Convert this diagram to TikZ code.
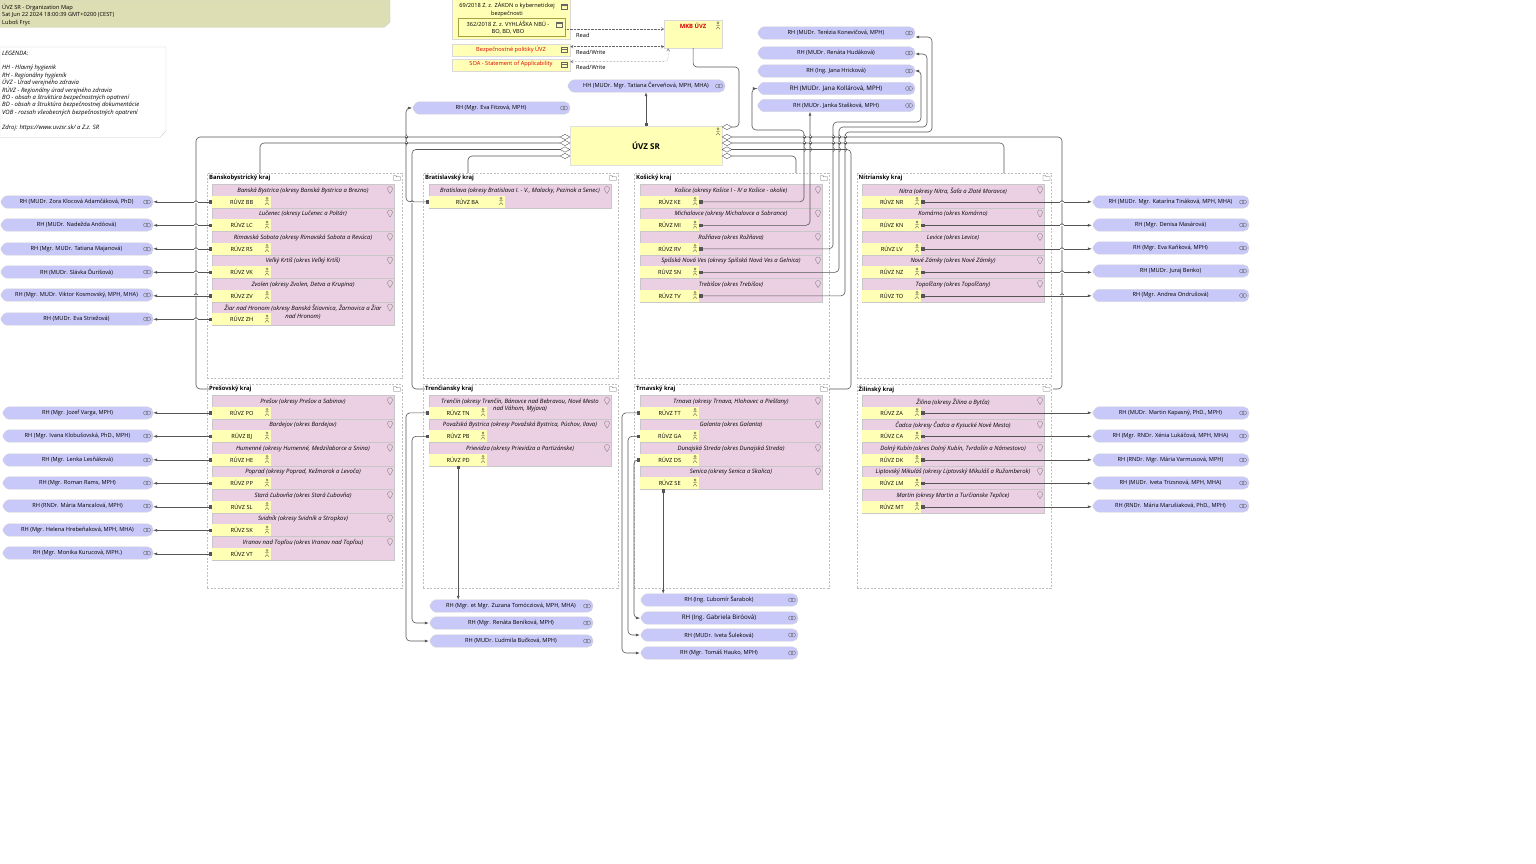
\documentclass[tikz,border=0pt]{standalone}
\usepackage{fontspec}
\setmainfont{Open Sans}
\usetikzlibrary{arrows.meta,shapes.geometric}

\definecolor{noteolive}{HTML}{DEDEB4}
\definecolor{roleyellow}{HTML}{FFFFB5}
\definecolor{rolepink}{HTML}{EBD0E4}
\definecolor{rolelilac}{HTML}{C9C9F9}
\definecolor{linkgray}{HTML}{555555}

\newcommand{\tinyfont}{\fontsize{5.65}{7.4}\selectfont}
\newcommand{\slantfont}{\fontsize{5.95}{7.4}\selectfont\itshape}
\newcommand{\boldfont}{\fontsize{5.85}{7.4}\selectfont\bfseries}
\newcommand{\bigfont}{\fontsize{6.2}{7.4}\selectfont}

\tikzset{
  linkline/.style = {draw=linkgray, line width=0.6pt},
  link/.style = {linkline, rounded corners=4pt},
  rhlink/.style = {link, {Square[length=3pt,width=3pt]}-{Latex[length=4pt,width=3pt]}},
  readlink/.style = {draw=black!60, line width=0.4pt, densely dotted, rounded corners=4pt, -{Straight Barb[length=2.5pt,width=3pt]}},
  rwlink/.style = {draw=black!60, line width=0.4pt, densely dotted, rounded corners=4pt, {Straight Barb[length=2.5pt,width=3pt]}-{Straight Barb[length=2.5pt,width=3pt]}},
  krajframe/.style = {draw=black!25, dash pattern=on 2pt off 1.5pt, line width=0.4pt, anchor=north west, minimum width=194.5pt, inner sep=0pt},
  krajtitle/.style = {font=\boldfont, anchor=west, inner sep=0pt},
  regbox/.style = {fill=rolepink, draw=black!22, line width=0.3pt, anchor=north west, minimum width=181.5pt, minimum height=23.5pt, inner sep=0pt},
  regtitle/.style = {font=\slantfont, align=center, anchor=north, inner sep=0pt},
  ruvz/.style = {fill=roleyellow, font=\tinyfont, anchor=north west, minimum height=11.75pt, inner sep=0pt},
  rhshape/.style = {fill=rolelilac, draw=black!18, line width=0.3pt},
  rhlabel/.style = {font=\tinyfont, minimum height=12pt, inner sep=0pt},
  artifact/.style = {fill=roleyellow, draw=black!15, line width=0.4pt, font=\tinyfont, align=center, anchor=north west, inner sep=0pt},
  redtext/.style = {artifact, text=red!85!black},
  hub/.style = {diamond, aspect=1.7, fill=white, draw=linkgray, line width=0.4pt, minimum width=10pt, minimum height=5.5pt, inner sep=0pt},
  actoricon/.pic = {
    \draw[line width=0.35pt, draw=black!70!yellow] (0,-3.2) circle (1.1pt) (0,-2.1) -- (0,1) (-2,-0.8) -- (2,-0.8) (-2,3.2) -- (0,1) -- (2,3.2);
  },
  pinicon/.pic = {
    \draw[line width=0.35pt, draw=black!50] (0,3.6) .. controls (-1,1.5) and (-2.6,0.5) .. (-2.6,-1) .. controls (-2.6,-4.4) and (2.6,-4.4) .. (2.6,-1) .. controls (2.6,0.5) and (1,1.5) .. (0,3.6);
  },
  foldericon/.pic = {
    \draw[line width=0.35pt, draw=black!60] (-3.5,-2.5) -- (-1,-2.5) -- (-0.5,-1.3) -- (3.5,-1.3) -- (3.5,2.3) -- (-3.5,2.3) -- cycle;
  },
  docicon/.pic = {
    \draw[line width=0.35pt, draw=black!60] (-3,-2.5) rectangle (3,2.5) (-3,-1) -- (3,-1);
  },
  roleicon/.pic = {
    \draw[line width=0.35pt, draw=black!60] (-1.5,0) circle (2pt) (1.5,0) circle (2pt);
  },
}

% lilac role: name, left, right, y, text
\newcommand{\rhnode}[5]{
  \filldraw[rhshape] (#2+5,#4-6.2) [rounded corners=5.5pt] -- (#3,#4-6.2) -- (#3,#4+6.2) [rounded corners=1.5pt] -- (#2+5,#4+6.2) -- (#2,#4) -- cycle;
  \node[rhlabel, minimum width={(#3-#2)*1pt}] (#1) at ({(#2+#3)/2},#4) {#5};
  \pic at (#3-6,#4) {roleicon};
}
% one district row: [cell width], id, left, top, title
\newcommand{\krajrow}[5][59]{
  \node[regbox] (g#2) at (#3,#4) {};
  \node[regtitle] (d#2) at (#3+91,#4+3.6) {#5};
  \node[ruvz, minimum width=#1pt] (c#2) at (#3,#4+11.75) {RÚVZ #2};
  \pic at (#3+#1-4,#4+17.6) {actoricon};
  \pic at (#3+178,#4+6) {pinicon};
}
% group frame: id, left, top, height, title
\newcommand{\krajbox}[5]{
  \node[krajframe, minimum height=#4pt] (f#1) at (#2,#3) {};
  \node[krajtitle] (t#1) at (#2+2,#3+5) {#5};
  \pic at (#2+190,#3+5) {foldericon};
}
% bumps where a line jumps over another
\newcommand{\hoph}[2]{
  \draw[white, line width=1pt] (#1-2,#2) -- (#1+2,#2);
  \draw[linkline] (#1-2,#2) .. controls (#1-1.5,#2-1.8) and (#1+1.5,#2-1.8) .. (#1+2,#2);
}
\newcommand{\hopv}[2]{
  \draw[white, line width=1pt] (#1,#2-2.4) -- (#1,#2+2.4);
  \draw[linkline] (#1-1.2,#2) -- (#1+1.2,#2);
  \draw[linkline] (#1,#2-2.4) .. controls (#1+2.4,#2-1.5) and (#1+2.4,#2+1.5) .. (#1,#2+2.4);
}

\begin{document}
\begin{tikzpicture}[x=1pt, y=-1pt]
  \useasboundingbox (0,0) rectangle (1536,864);

  % title and legend
  \filldraw[fill=noteolive, draw=black!20, line width=0.4pt] (0,0) -- (390,0) -- (390,22) -- (384,27.5) -- (0,27.5) -- cycle;
  \node[font=\tinyfont, align=left, anchor=north west, inner sep=0pt] (title) at (2,3.8) {ÚVZ SR - Organization Map\\Sat Jun 22 2024 18:00:39 GMT+0200 (CEST)\\Luboš Fryc};
  \filldraw[fill=white, draw=black!20, line width=0.4pt] (0,47) -- (166,47) -- (166,131) -- (160,137.5) -- (0,137.5) -- cycle;
  \node[font=\slantfont, align=left, anchor=north west, inner sep=0pt] (legend) at (2,50.5) {LEGENDA:\\[7.4pt]HH - Hlavný hygienik\\RH - Regionálny hygienik\\ÚVZ - Úrad verejného zdravia\\RÚVZ - Regionálny úrad verejného zdravia\\BO - obsah a štruktúra bezpečnostných opatrení\\BD - obsah a štruktúra bezpečnostnej dokumentácie\\VOB -  rozsah všeobecných bezpečnostných opatrení\\[7.4pt]Zdroj: https://www.uvzsr.sk/ a Z.z. SR};

  % documents and the security manager
  \node[artifact, minimum width=118pt, minimum height=40pt] (zakon) at (452,-1) {};
  \node[font=\tinyfont, align=center, inner sep=0pt] (zakontext) at (507,9.5) {69/2018 Z. z. ZÁKON o kybernetickej\\bezpečnosti};
  \node[artifact, draw=black!40!yellow, minimum width=107pt, minimum height=18pt] (vyhlaska) at (458,18.5) {};
  \node[font=\tinyfont, align=center, inner sep=0pt] (vyhlaskatext) at (508,27.5) {362/2018 Z. z. VYHLÁŠKA NBÚ -\\BO, BD, VBO};
  \pic at (564,6.5) {docicon};
  \pic at (559,24.5) {docicon};
  \node[redtext, minimum width=118pt, minimum height=12pt] (politiky) at (452,44) {};
  \node[font=\tinyfont, text=red!85!black, inner sep=0pt] (politikytext) at (511,50) {Bezpečnostné politiky ÚVZ};
  \pic at (564,50) {docicon};
  \node[redtext, minimum width=118pt, minimum height=12pt] (soa) at (452,59) {};
  \node[font=\tinyfont, text=red!85!black, inner sep=0pt] (soatext) at (511,64.5) {SOA - Statement of Applicability};
  \pic at (564,65) {docicon};
  \node[artifact, minimum width=58pt, minimum height=28pt] (mkb) at (664,20) {};
  \node[font=\boldfont, text=red!85!black, inner sep=0pt] (mkbtext) at (693,26) {MKB ÚVZ};
  \pic at (718,26) {actoricon};
  \node[font=\tinyfont, anchor=west, inner sep=0pt] (lblread) at (576,35.5) {Read};
  \node[font=\tinyfont, anchor=west, inner sep=0pt] (lblpol) at (576,52) {Read/Write};
  \node[font=\tinyfont, anchor=west, inner sep=0pt] (lblsoa) at (576,67) {Read/Write};

  % central office
  \node[fill=roleyellow, draw=black!12, line width=0.4pt, font=\fontsize{8}{9}\selectfont\bfseries, minimum width=152pt, minimum height=39pt, inner sep=0pt] (uvz) at (646,145.5) {ÚVZ SR};
  \pic at (718,132) {actoricon};
  \rhnode{rHH}{567}{725}{86}{HH (MUDr. Mgr. Tatiana Červeňová, MPH, MHA)}
  \rhnode{rFI}{412}{570}{108}{RH (Mgr. Eva Fitzová, MPH)}

  % top right roles
  \rhnode{rKN}{757}{915}{33}{RH (MUDr. Terézia Konevičová, MPH)}
  \rhnode{rHU}{757}{915}{53}{RH (MUDr. Renáta Hudáková)}
  \rhnode{rHR}{757}{915}{71}{RH (Ing. Jana Hricková)}
  \rhnode{rKO}{757}{915}{88.5}{{\bigfont RH (MUDr. Jana Kollárová, MPH)}}
  \rhnode{rST}{757}{915}{105.5}{RH (MUDr. Janka Stašková, MPH)}

  % groups
  \krajbox{Ban}{207}{173}{205}{Banskobystrický kraj}
  \krajbox{Bra}{423}{173}{205}{Bratislavský kraj}
  \krajbox{Kos}{634}{173}{205}{Košický kraj}
  \krajbox{Nit}{856.5}{173}{205}{Nitriansky kraj}
  \krajbox{Pre}{207}{384}{204}{Prešovský kraj}
  \krajbox{Tre}{423}{384}{204}{Trenčiansky kraj}
  \krajbox{Trn}{634}{384}{204}{Trnavský kraj}
  \krajbox{Zil}{856.5}{384}{204}{Žilinský kraj}

  \krajrow{BB}{212}{184}{Banská Bystrica (okresy Banská Bystrica a Brezno)}
  \krajrow{LC}{212}{207.5}{Lučenec (okresy Lučenec a Poltár)}
  \krajrow{RS}{212}{231}{Rimavská Sobota (okresy Rimavská Sobota a Revúca)}
  \krajrow{VK}{212}{254.5}{Veľký Krtíš (okres Veľký Krtíš)}
  \krajrow{ZV}{212}{278}{Zvolen (okresy Zvolen, Detva a Krupina)}
  \krajrow{ZH}{212}{301.5}{Žiar nad Hronom (okresy Banská Štiavnica, Žarnovica a Žiar\\nad Hronom)}

  \krajrow[76]{BA}{429}{184}{Bratislava (okresy Bratislava I. - V., Malacky, Pezinok a Senec)}

  \krajrow{KE}{640}{184}{Košice (okresy Košice I - IV a Košice - okolie)}
  \krajrow{MI}{640}{207.5}{Michalovce (okresy Michalovce a Sobrance)}
  \krajrow{RV}{640}{231}{Rožňava (okres Rožňava)}
  \krajrow{SN}{640}{254.5}{Spišská Nová Ves (okresy Spišská Nová Ves a Gelnica)}
  \krajrow{TV}{640}{278}{Trebišov (okres Trebišov)}

  \krajrow{NR}{862}{184}{Nitra (okresy Nitra, Šaľa a  Zlaté Moravce)}
  \krajrow{KN}{862}{207.5}{Komárno (okres Komárno)}
  \krajrow{LV}{862}{231}{Levice (okres Levice)}
  \krajrow{NZ}{862}{254.5}{Nové Zámky (okres Nové Zámky)}
  \krajrow{TO}{862}{278}{Topoľčany (okres Topoľčany)}

  \krajrow{PO}{212}{395}{Prešov (okresy Prešov a Sabinov)}
  \krajrow{BJ}{212}{418.5}{Bardejov (okres Bardejov)}
  \krajrow{HE}{212}{442}{Humenné (okresy Humenné, Medzilaborce a Snina)}
  \krajrow{PP}{212}{465.5}{Poprad (okresy Poprad, Kežmarok a Levoča)}
  \krajrow{SL}{212}{489}{Stará Ľubovňa (okres Stará Ľubovňa)}
  \krajrow{SK}{212}{512.5}{Svidník (okresy Svidník a Stropkov)}
  \krajrow{VT}{212}{536}{Vranov nad Topľou (okres Vranov nad Topľou)}

  \krajrow[58]{TN}{429}{395}{Trenčín (okresy Trenčín, Bánovce nad Bebravou, Nové Mesto\\nad Váhom, Myjava)}
  \krajrow[58]{PB}{429}{418.5}{Považská Bystrica (okresy Považská Bystrica, Púchov, Ilava)}
  \krajrow[58]{PD}{429}{442}{Prievidza (okresy Prievidza a Partizánske)}

  \krajrow{TT}{640}{395}{Trnava (okresy Trnava, Hlohovec a Piešťany)}
  \krajrow{GA}{640}{418.5}{Galanta (okres Galanta)}
  \krajrow{DS}{640}{442}{Dunajská Streda (okres Dunajská Streda)}
  \krajrow{SE}{640}{465.5}{Senica (okresy Senica a Skalica)}

  \krajrow{ZA}{862}{395}{Žilina (okresy Žilina a Bytča)}
  \krajrow{CA}{862}{418.5}{Čadca (okresy Čadca a Kysucké Nové Mesto)}
  \krajrow{DK}{862}{442}{Dolný Kubín (okres Dolný Kubín, Tvrdošín a Námestovo)}
  \krajrow{LM}{862}{465.5}{Liptovský Mikuláš (okresy Liptovský Mikuláš a Ružomberok)}
  \krajrow{MT}{862}{489}{Martin (okresy Martin a Turčianske Teplice)}

  % roles on the left
  \rhnode{rBB}{0}{153}{202}{RH (MUDr. Zora Klocová Adamčáková, PhD)}
  \rhnode{rLC}{0}{153}{225}{RH (MUDr. Nadežda Andóová)}
  \rhnode{rRS}{0}{153}{249}{RH (Mgr. MUDr. Tatiana Majanová)}
  \rhnode{rVK}{0}{153}{272}{RH (MUDr. Slávka Ďurišová)}
  \rhnode{rZV}{0}{153}{295}{RH (Mgr. MUDr. Viktor Kosmovský, MPH, MHA)}
  \rhnode{rZH}{0}{153}{319}{RH (MUDr. Eva Striežová)}
  \rhnode{rPO}{2}{153}{413}{RH (Mgr. Jozef Varga, MPH)}
  \rhnode{rBJ}{2}{153}{436}{RH (Mgr. Ivana Klobušovská, PhD., MPH)}
  \rhnode{rHE}{2}{153}{460}{RH (Mgr. Lenka Lesňáková)}
  \rhnode{rPP}{2}{153}{483}{RH (Mgr. Roman Rams, MPH)}
  \rhnode{rSL}{2}{153}{506}{RH (RNDr. Mária Mancalová, MPH)}
  \rhnode{rSK}{2}{153}{530}{RH (Mgr. Helena Hrebeňaková, MPH, MHA)}
  \rhnode{rVT}{2}{153}{553}{RH (Mgr. Monika Kurucová, MPH.)}

  % roles on the right
  \rhnode{rNR}{1092}{1249}{202}{RH (MUDr. Mgr. Katarína Tináková, MPH, MHA)}
  \rhnode{rKM}{1092}{1249}{225}{RH (Mgr. Denisa Masárová)}
  \rhnode{rLV}{1092}{1249}{248}{RH (Mgr. Eva Kaňková, MPH)}
  \rhnode{rNZ}{1092}{1249}{271}{RH (MUDr. Juraj Benko)}
  \rhnode{rTO}{1092}{1249}{295.5}{RH (Mgr. Andrea Ondrušová)}
  \rhnode{rZA}{1092}{1249}{413}{RH (MUDr. Martin Kapasný, PhD., MPH)}
  \rhnode{rCA}{1092}{1249}{436}{RH (Mgr. RNDr. Xénia Lukáčová, MPH, MHA)}
  \rhnode{rDK}{1092}{1249}{460}{RH (RNDr. Mgr. Mária Varmusová, MPH)}
  \rhnode{rLM}{1092}{1249}{483}{RH (MUDr. Iveta Trizsnová, MPH, MHA)}
  \rhnode{rMT}{1092}{1249}{506}{RH (RNDr. Mária Marušiaková, PhD., MPH)}

  % roles below
  \rhnode{rPD}{429}{593}{606}{RH (Mgr. et Mgr. Zuzana Tomócziová, MPH, MHA)}
  \rhnode{rPB}{429}{593}{623}{RH (Mgr. Renáta Beníková, MPH)}
  \rhnode{rTN}{429}{593}{641}{RH (MUDr. Ľudmila Bučková, MPH)}
  \rhnode{rSE}{640}{798}{600}{RH (Ing. Ľubomír Šarabok)}
  \rhnode{rDS}{640}{798}{618}{{\bigfont RH (Ing. Gabriela Biróová)}}
  \rhnode{rGA}{640}{798}{635}{RH (MUDr. Iveta Šuleková)}
  \rhnode{rTT}{640}{798}{653}{RH (Mgr. Tomáš Hauko, MPH)}

  % where the group links end
  \coordinate (inBan) at (260,173);
  \coordinate (inBra) at (468,173);
  \coordinate (inKos) at (796,173);
  \coordinate (inNit) at (1004,173);
  \coordinate (inTrn) at (829,389);
  \coordinate (inZil) at (1053,389);

  % aggregation links
  \foreach \i/\y in {1/137, 2/143, 3/149.5, 4/156} {
    \node[hub] (dl\i) at (565,\y) {};
    \node[hub] (dr\i) at (727,\y) {};
  }
  \node[hub] (dm) at (727,127) {};
  \draw[link] (dl1.west) -- (196,137) |- (tPre.west);
  \draw[link] (dl2.west) -| (inBan);
  \draw[link] (dl3.west) -- (412,149.5) |- (tTre.west);
  \draw[link] (dl4.west) -| (inBra);
  \draw[link] (dr1.east) -- (1062,137) |- (inZil);
  \draw[link] (dr2.east) -| (inNit);
  \draw[link] (dr3.east) -- (851,149.5) |- (inTrn);
  \draw[link] (dr4.east) -| (inKos);
  \draw[link] (mkb.south) -- (693,67) -- (739,67) |- (dm.east);

  % document access
  \draw[readlink] (vyhlaska.east |- 0,29) -- (mkb.west |- 0,29);
  \draw[rwlink] ([yshift=3.5pt]politiky.east) -- ([yshift=3.5pt]mkb.west |- politiky.east);
  \draw[rwlink] ([yshift=3.5pt]soa.east) -| ([xshift=-25pt]mkb.south);

  % office to head hygienist
  \draw[rhlink] (uvz.north) -- (rHH.south -| uvz.north);

  % district offices to their hygienists
  \foreach \id in {BB,LC,RS,VK,ZV,ZH,PO,BJ,HE,PP,SL,SK,VT} {
    \draw[rhlink] (c\id.west) -- (c\id.west -| r\id.east);
  }
  \foreach \cid/\rid in {NR/NR,KN/KM,LV/LV,NZ/NZ,TO/TO,ZA/ZA,CA/CA,DK/DK,LM/LM,MT/MT} {
    \draw[rhlink] (c\cid.east) -- (c\cid.east -| r\rid.west);
  }
  \draw[rhlink] (cBA.west) -- ++(-23,0) |- (rFI.west);
  \draw[rhlink] (cKE.east) -| (804,130) -- (752,130) |- (rKO.west);
  \draw[rhlink] (cMI.east) -| ([xshift=-26pt]rST.south);
  \draw[rhlink] (cRV.east) -| (833,122) -- (921,122) |- (rHR.east);
  \draw[rhlink] (cSN.east) -| (839,127) -- (927,127) |- ([yshift=-1pt]rHU.east);
  \draw[rhlink] (cTV.east) -| (845,132) -- (932,132) |- ([yshift=-4pt]rKN.east);
  \draw[rhlink] (cTN.west) -- ++(-23,0) |- (rTN.west);
  \draw[rhlink] (cPB.west) -- ++(-17,0) |- (rPB.west);
  \draw[rhlink] (cPD.south) -- (cPD.south |- rPD.north);
  \draw[rhlink] (cTT.west) -- ++(-18,0) |- (rTT.west);
  \draw[rhlink] (cGA.west) -- ++(-12,0) |- (rGA.west);
  \draw[rhlink] (cDS.west) -- ++(-6,0) |- (rDS.west);
  \draw[rhlink] ([xshift=-6.5pt]cSE.south) -- ([xshift=-6.5pt]cSE.south |- rSE.north);

  % line jumps
  \foreach \hx/\hy in {196/202, 196/225, 196/249, 196/272, 196/295, 196/319, 412/202, 1062/202, 1062/225, 1062/249, 1062/272, 1062/295} {
    \hoph{\hx}{\hy}
  }
  \foreach \vx/\vy in {406/137, 406/143, 804/137, 804/143, 804/149.5, 810/137, 810/143, 810/149.5, 833/137, 833/143, 833/149.5, 839/137, 839/143, 839/149.5, 845/137, 845/143, 845/149.5} {
    \hopv{\vx}{\vy}
  }
\end{tikzpicture}
\end{document}
